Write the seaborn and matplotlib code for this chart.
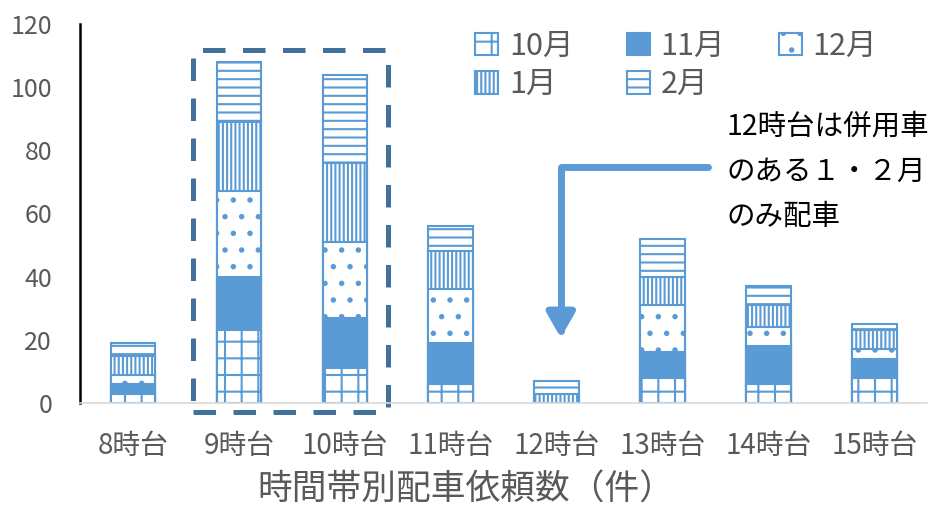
import pandas as pd
import matplotlib.pyplot as plt
import seaborn as sns
from matplotlib.patches import Patch, Rectangle

# --- data ---
hours = ['8時台', '9時台', '10時台', '11時台', '12時台', '13時台', '14時台', '15時台']
months = ['10月', '11月', '12月', '1月', '2月']
oct_vals = [3, 23, 11, 6, 0, 8, 6, 8]
nov_vals = [3, 17, 16, 13, 0, 8, 12, 6]
dec_vals = [3, 27, 24, 17, 0, 15, 6, 3]
jan_vals = [6, 22, 25, 12, 3, 9, 7, 6]
feb_vals = [4, 19, 28, 8, 4, 12, 6, 2]
y_ticks = [0, 20, 40, 60, 80, 100, 120]
note_lines = ['12時台は併用車', 'のある１・２月', 'のみ配車']

blue = '#5B9BD5'
dark_blue = '#41719C'
gray = '#595959'

# wide -> long, with running totals for stacking
wide = pd.DataFrame({'hour': hours, '10月': oct_vals, '11月': nov_vals,
                     '12月': dec_vals, '1月': jan_vals, '2月': feb_vals})
cum = wide[months].cumsum(axis=1)
cum['hour'] = hours
long_vals = wide.melt(id_vars='hour', var_name='month', value_name='count')
long_cum = cum.melt(id_vars='hour', var_name='month', value_name='cum')
df = long_vals.merge(long_cum, on=['hour', 'month'])
df = df[df['count'] > 0]

sns.set_style('white')
plt.rcParams['font.family'] = ['Noto Sans CJK JP', 'DejaVu Sans']
plt.rcParams['hatch.linewidth'] = 1.5
plt.rcParams['hatch.color'] = blue

fig = plt.figure(figsize=(9.29, 5.07), dpi=100)
ax = fig.add_axes([0.0861, 0.2051, 0.912, 0.7476])

styles = {
    '10月': dict(color='white', hatch='+'),
    '11月': dict(color=blue, hatch=None),
    '12月': dict(color='white', hatch='.'),
    '1月': dict(color='white', hatch='||||'),
    '2月': dict(color='white', hatch='--'),
}

# draw tallest (cumulative) first, then overlay lower segments
for m in reversed(months):
    sub = df[df['month'] == m]
    sns.barplot(data=sub, x='hour', y='cum', order=hours, color=styles[m]['color'],
                saturation=1, width=0.42, edgecolor=blue, linewidth=1.5,
                hatch=styles[m]['hatch'], errorbar=None, ax=ax)

ax.set_xlim(-0.5, len(hours) - 0.5)
ax.set_ylim(0, 120)
ax.set_yticks(y_ticks)
ax.set_xlabel('時間帯別配車依頼数（件）', fontsize=25, color=gray)
ax.xaxis.set_label_coords(0.456, -0.185)
ax.set_ylabel('')

for s in ['top', 'right']:
    ax.spines[s].set_visible(False)
ax.spines['left'].set_color('black')
ax.spines['left'].set_linewidth(1.8)
ax.spines['bottom'].set_color('#D9D9D9')
ax.spines['bottom'].set_linewidth(1.2)
ax.tick_params(axis='y', direction='in', length=7, width=1.8, color='black',
               labelsize=18, labelcolor=gray, pad=20)
ax.tick_params(axis='x', length=0, labelsize=20, labelcolor=gray, pad=20)

# dashed box around 9-10時台
box = Rectangle((0.567, -2.85), 1.84, 114.5, fill=False, edgecolor=dark_blue,
                linewidth=3.6, linestyle=(0, (4.5, 3.5)), clip_on=False)
ax.add_patch(box)

# bent arrow pointing at 12時台
ax.annotate('', xy=(4.04, 20.6), xytext=(5.43, 74.7),
            arrowprops=dict(arrowstyle='-|>,head_length=15,head_width=8.5',
                            mutation_scale=1, lw=5, color=blue,
                            connectionstyle='angle,angleA=180,angleB=90,rad=0',
                            shrinkA=0, shrinkB=0))
for i, line in enumerate(note_lines):
    fig.text(727 / 929, 1 - (127 + 45 * i) / 507, line,
             fontsize=20.5, color='black', ha='left', va='center')

# legend: order arranged so rows read 10,11,12 / 1,2
handles = {m: Patch(facecolor=styles[m]['color'], edgecolor=blue,
                    hatch=styles[m]['hatch'], linewidth=1.5) for m in months}
order = ['10月', '1月', '11月', '2月', '12月']
fig.legend([handles[m] for m in order], order, loc='upper left',
           bbox_to_anchor=(448 / 929, 1 - 3 / 507), ncol=3, frameon=False,
           fontsize=22, handlelength=0.75, handleheight=0.75, handletextpad=0.35,
           columnspacing=1.75, labelspacing=0.25, labelcolor=gray)

plt.savefig('out.png', dpi=100)
